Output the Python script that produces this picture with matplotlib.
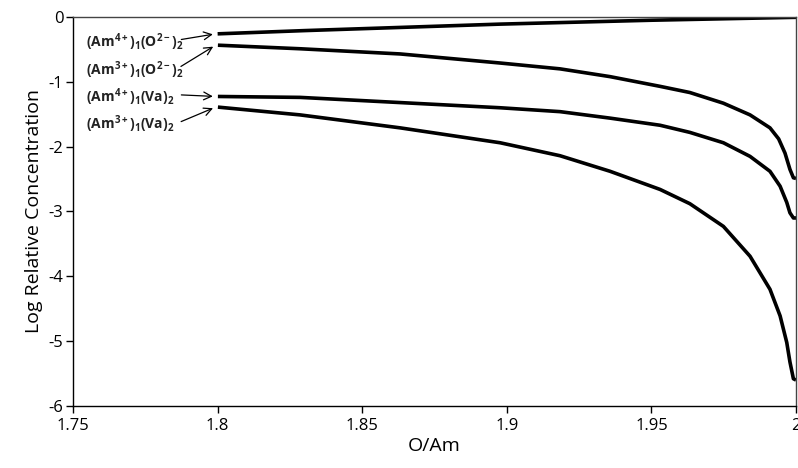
import matplotlib
matplotlib.use("Agg")
import matplotlib.pyplot as plt

# Data
x_am4_o = [1.800, 1.830, 1.8977, 1.950, 2.000]
y_am4_o = [-0.26, -0.21, -0.11, -0.05, -0.005]

x_am3_o = [1.8001, 1.8285, 1.8631, 1.8977, 1.9184, 1.9357, 1.9530, 1.9633, 1.9749, 1.9841,
           1.9910, 1.9940, 1.9962, 1.9979, 1.9991, 2.0]
y_am3_o = [-0.435, -0.49, -0.57, -0.71, -0.80, -0.92, -1.07, -1.165, -1.33, -1.51,
           -1.71, -1.88, -2.10, -2.35, -2.48, -2.49]

x_am4_va = [1.8001, 1.8285, 1.8631, 1.8977, 1.9184, 1.9357, 1.9530, 1.9633, 1.9749, 1.9841,
            1.9910, 1.9945, 1.9968, 1.9979, 1.9991, 2.0]
y_am4_va = [-1.226, -1.24, -1.32, -1.40, -1.46, -1.56, -1.67, -1.78, -1.94, -2.15,
            -2.38, -2.61, -2.86, -3.02, -3.10, -3.10]

x_am3_va = [1.8001, 1.8285, 1.8631, 1.8977, 1.9184, 1.9357, 1.9530, 1.9633, 1.9749, 1.9841,
            1.9910, 1.9945, 1.9968, 1.9979, 1.9991, 2.0]
y_am3_va = [-1.39, -1.51, -1.71, -1.94, -2.14, -2.38, -2.66, -2.88, -3.23, -3.69,
            -4.20, -4.61, -5.02, -5.32, -5.58, -5.60]

labels = [r'(Am$^{4+}$)$_1$(O$^{2-}$)$_2$',
          r'(Am$^{3+}$)$_1$(O$^{2-}$)$_2$',
          r'(Am$^{4+}$)$_1$(Va)$_2$',
          r'(Am$^{3+}$)$_1$(Va)$_2$']
label_y = [-0.39, -0.82, -1.24, -1.66]
arrow_start_y = [-0.354, -0.785, -1.20, -1.63]

xticks = [1.75, 1.8, 1.85, 1.9, 1.95, 2.0]
xticklabels = ['1.75', '1.8', '1.85', '1.9', '1.95', '2']
yticks = [0, -1, -2, -3, -4, -5, -6]

plt.rcParams['font.family'] = ['Open Sans', 'DejaVu Sans']
plt.rcParams['mathtext.fontset'] = 'custom'
plt.rcParams['mathtext.rm'] = 'Open Sans:bold'
plt.rcParams['mathtext.it'] = 'Open Sans:bold'
plt.rcParams['mathtext.bf'] = 'Open Sans:bold'

fig = plt.figure(figsize=(7.98, 4.68), dpi=100)
ax = fig.add_axes([0.0915, 0.1325, 0.906, 0.8312])

series = [(x_am4_o, y_am4_o), (x_am3_o, y_am3_o), (x_am4_va, y_am4_va), (x_am3_va, y_am3_va)]
for xs, ys in series:
    ax.plot(xs, ys, color='black', lw=2.6, solid_capstyle='butt', solid_joinstyle='round')

for (xs, ys), lab, ly, ay in zip(series, labels, label_y, arrow_start_y):
    ax.text(1.7545, ly, lab, ha='left', va='center', fontsize=10, fontweight='bold', color='#222222')
    ax.annotate('', xy=(1.7993, ys[0]), xytext=(1.7865, ay),
                arrowprops=dict(arrowstyle='->', color='black', lw=0.9, mutation_scale=14))

ax.set_xlim(1.75, 2.0)
ax.set_ylim(-6, 0)
ax.set_xticks(xticks)
ax.set_xticklabels(xticklabels)
ax.set_yticks(yticks)
ax.set_yticklabels([str(t) for t in yticks])
ax.tick_params(axis='both', direction='out', length=5, width=1, labelsize=12, colors='black')
ax.tick_params(axis='x', pad=4)
ax.tick_params(axis='y', pad=2)
for s in ax.spines.values():
    s.set_color('#444444')
    s.set_linewidth(1.0)
ax.spines['left'].set_color('black')
ax.spines['bottom'].set_color('black')

ax.set_xlabel('O/Am', fontsize=14, labelpad=2)
ax.set_ylabel('Log Relative Concentration', fontsize=14, labelpad=4)

fig.savefig('out.png', dpi=100)
